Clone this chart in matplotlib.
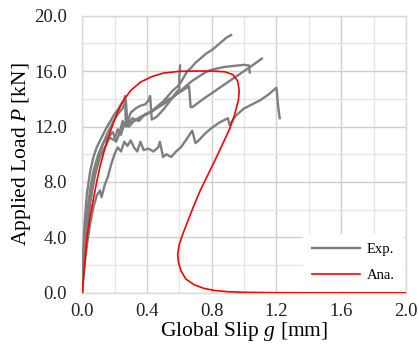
import matplotlib
matplotlib.use("Agg")
import matplotlib.pyplot as plt
from matplotlib.ticker import MultipleLocator, FormatStrFormatter
from matplotlib.lines import Line2D

plt.rcParams['font.family'] = ['Liberation Serif', 'DejaVu Serif']
plt.rcParams['mathtext.fontset'] = 'custom'
plt.rcParams['mathtext.it'] = 'Liberation Serif:italic'
plt.rcParams['mathtext.rm'] = 'Liberation Serif'

# Experimental curves (slip g [mm], load P [kN])
exp1_g = [0, 0.01, 0.02, 0.04, 0.06, 0.08, 0.1, 0.13, 0.16, 0.19, 0.22, 0.25, 0.27, 0.28, 0.31, 0.35, 0.39, 0.43, 0.47, 0.5, 0.53, 0.56, 0.59, 0.61, 0.63, 0.65, 0.67, 0.7, 0.72, 0.74, 0.77, 0.8, 0.83, 0.86, 0.89, 0.92]
exp1_p = [0, 2.5, 4.5, 6.5, 8.0, 9.0, 9.8, 10.8, 11.6, 12.3, 12.9, 13.3, 13.9, 12.2, 12.6, 12.4, 12.9, 13.1, 13.5, 13.8, 14.2, 14.6, 14.9, 15.2, 15.6, 16.0, 16.2, 16.6, 16.8, 17.0, 17.3, 17.5, 17.8, 18.1, 18.4, 18.6]

exp2_g = [0, 0.01, 0.03, 0.05, 0.07, 0.1, 0.13, 0.16, 0.19, 0.21, 0.23, 0.25, 0.27, 0.3, 0.34, 0.38, 0.42, 0.46, 0.5, 0.54, 0.58, 0.62, 0.66, 0.67, 0.68, 0.75, 0.85, 0.95, 1.05, 1.11]
exp2_p = [0, 3.0, 5.5, 7.5, 8.8, 10.0, 10.8, 11.2, 11.6, 10.9, 11.5, 12.4, 12.0, 12.3, 12.5, 12.8, 13.0, 13.3, 13.6, 13.9, 14.3, 14.6, 14.9, 13.4, 13.4, 14.0, 14.8, 15.6, 16.4, 16.9]

exp3_g = [0, 0.01, 0.03, 0.05, 0.08, 0.11, 0.14, 0.17, 0.2, 0.22, 0.24, 0.26, 0.29, 0.32, 0.36, 0.4, 0.44, 0.48, 0.52, 0.56, 0.6, 0.64, 0.68, 0.72, 0.76, 0.8, 0.84, 0.88, 0.92, 0.96, 1.0, 1.03, 1.035]
exp3_p = [0, 2.0, 4.5, 6.5, 8.5, 9.8, 10.5, 11.2, 11.0, 11.8, 11.4, 12.2, 12.0, 12.4, 12.7, 12.9, 13.2, 13.6, 13.9, 14.1, 14.5, 14.9, 15.3, 15.6, 15.9, 16.1, 16.2, 16.3, 16.35, 16.4, 16.45, 16.4, 15.9]

exp4_g = [0, 0.01, 0.03, 0.05, 0.07, 0.09, 0.11, 0.12, 0.14, 0.16, 0.18, 0.2, 0.22, 0.24, 0.26, 0.28, 0.3, 0.32, 0.34, 0.36, 0.38, 0.41, 0.44, 0.47, 0.48, 0.5, 0.52, 0.55, 0.58, 0.61, 0.64, 0.68, 0.7, 0.72, 0.76, 0.8, 0.85, 0.9, 0.91, 0.95, 1.0, 1.05, 1.1, 1.15, 1.2, 1.21, 1.22]
exp4_p = [0, 1.5, 3.5, 5.0, 6.2, 7.0, 7.4, 6.9, 7.8, 8.4, 9.3, 10.0, 10.5, 10.2, 10.9, 10.6, 11.0, 10.5, 10.2, 10.9, 10.3, 10.4, 10.2, 10.5, 10.9, 9.8, 10.0, 9.8, 10.2, 10.5, 11.0, 11.7, 10.8, 11.0, 11.5, 11.9, 12.3, 12.6, 12.1, 12.8, 13.3, 13.6, 13.9, 14.3, 14.8, 13.5, 12.6]

exp5_g = [0, 0.005, 0.015, 0.03, 0.05, 0.07, 0.09, 0.12, 0.15, 0.18, 0.2, 0.22, 0.24, 0.26, 0.265, 0.27, 0.3, 0.33, 0.36, 0.39, 0.41, 0.42, 0.43, 0.46, 0.5, 0.54, 0.57, 0.6, 0.6, 0.605]
exp5_p = [0, 2.5, 5.0, 7.2, 8.8, 9.8, 10.5, 11.2, 11.9, 12.5, 12.9, 13.2, 13.6, 13.9, 14.2, 12.0, 13.0, 13.3, 13.5, 13.6, 13.9, 14.2, 12.5, 12.7, 13.2, 13.8, 14.3, 14.7, 15.6, 16.4]

# Analytical curve
ana_g = [0, 0.015, 0.03, 0.05, 0.07, 0.09, 0.11, 0.14, 0.17, 0.21, 0.25, 0.3, 0.36, 0.43, 0.5, 0.6, 0.7, 0.8, 0.88, 0.93, 0.96, 0.97, 0.965, 0.94, 0.91, 0.87, 0.83, 0.78, 0.73, 0.69, 0.65, 0.62, 0.60, 0.59, 0.595, 0.61, 0.64, 0.69, 0.75, 0.82, 0.9, 1.0, 1.2, 1.5, 2.0]
ana_p = [0, 2.0, 4.0, 5.6, 6.8, 8.0, 9.1, 10.4, 11.5, 12.8, 13.8, 14.6, 15.2, 15.6, 15.85, 15.98, 16.0, 16.0, 15.95, 15.75, 15.3, 14.6, 13.9, 12.8, 11.8, 10.8, 9.8, 8.6, 7.4, 6.3, 5.1, 4.2, 3.5, 2.8, 2.2, 1.6, 1.0, 0.6, 0.33, 0.17, 0.08, 0.04, 0.01, 0.0, 0.0]

exp_curves = [(exp1_g, exp1_p), (exp2_g, exp2_p), (exp3_g, exp3_p), (exp4_g, exp4_p), (exp5_g, exp5_p)]

fig = plt.figure(figsize=(4.19, 3.47), dpi=100)
ax = fig.add_axes([0.196, 0.156, 0.773, 0.799])

gray = '#7f7f7f'
for g, p in exp_curves:
    ax.plot(g, p, color=gray, lw=1.7, solid_joinstyle='round', zorder=3)
ax.plot(ana_g, ana_p, color='#ff0000', lw=1.2, zorder=4)

ax.set_xlim(0, 2.0)
ax.set_ylim(0, 20.0)
ax.xaxis.set_major_locator(MultipleLocator(0.4))
ax.xaxis.set_minor_locator(MultipleLocator(0.2))
ax.yaxis.set_major_locator(MultipleLocator(4.0))
ax.yaxis.set_minor_locator(MultipleLocator(2.0))
ax.xaxis.set_major_formatter(FormatStrFormatter('%.1f'))
ax.yaxis.set_major_formatter(FormatStrFormatter('%.1f'))
ax.grid(which='major', color='#cfcfcf', lw=1.0, zorder=0)
ax.grid(which='minor', color='#e6e6e6', lw=1.0, zorder=0)
ax.set_axisbelow(True)
ax.tick_params(which='both', length=0, labelsize=13.5, colors='#222222')
ax.tick_params(axis='y', pad=11)
ax.tick_params(axis='x', pad=7)
for s in ax.spines.values():
    s.set_color('#d9d9d9')
    s.set_linewidth(1.0)

ax.set_xlabel('Global Slip $g$ [mm]', fontsize=15.5, labelpad=0)
ax.set_ylabel('Applied Load $P$ [kN]', fontsize=15.5, labelpad=1)

handles = [Line2D([], [], color=gray, lw=1.7), Line2D([], [], color='#ff0000', lw=1.2)]
leg = ax.legend(handles, ['Exp.', 'Ana.'], loc='lower right', fontsize=10.5,
                frameon=True, fancybox=False, framealpha=1, edgecolor='none',
                facecolor='white', handlelength=3.3, labelspacing=0.85,
                borderaxespad=0.15, borderpad=0.6, handletextpad=0.5)
leg.set_zorder(5)

fig.savefig('out.png', dpi=100)
